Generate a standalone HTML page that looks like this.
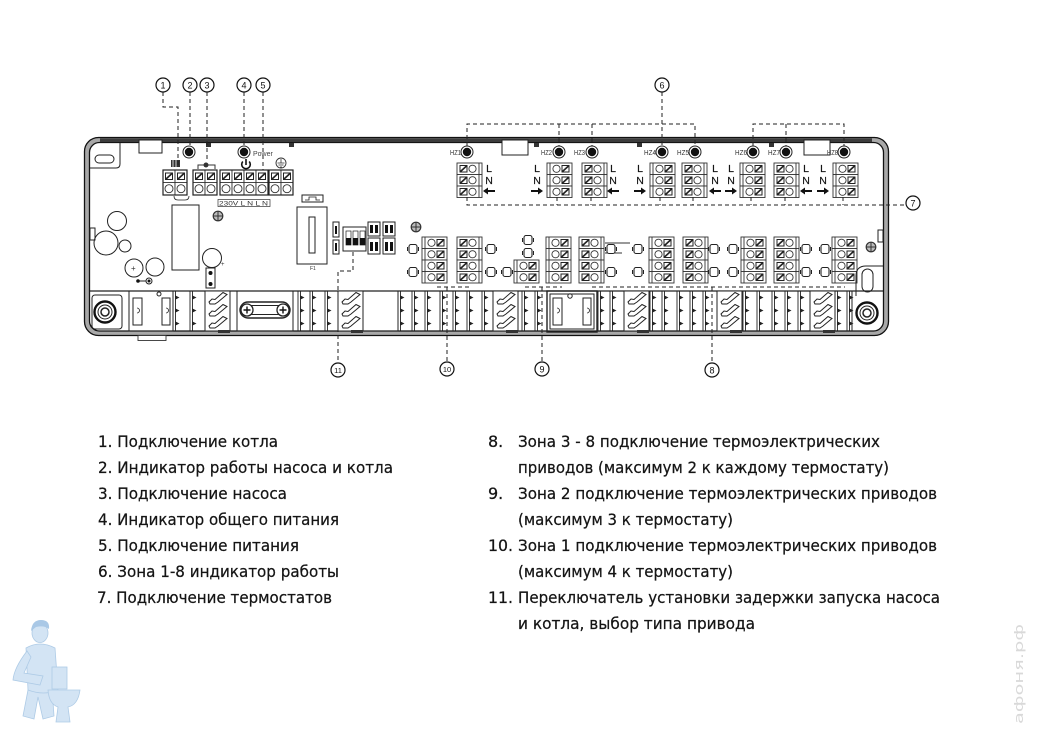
<!DOCTYPE html>
<html><head><meta charset="utf-8">
<style>
html,body{margin:0;padding:0;background:#fff;}
body{width:1037px;height:734px;overflow:hidden;position:relative;}
svg{position:absolute;left:0;top:0;}
</style></head><body>
<svg width="1037" height="734" viewBox="0 0 1037 734" xmlns="http://www.w3.org/2000/svg">
<defs>
 <g id="ra">
  <rect x="0" y="0" width="25" height="11.5" fill="#fff" stroke="#333" stroke-width="0.9"/>
  <line x1="3" y1="0" x2="3" y2="11.5" stroke="#333" stroke-width="0.9"/>
  <circle cx="9.5" cy="5.75" r="3.6" fill="none" stroke="#333" stroke-width="0.9"/>
  <rect x="15" y="2.5" width="7" height="6.5" fill="none" stroke="#222" stroke-width="1"/>
  <path d="M15 9 L22 2.5" stroke="#222" stroke-width="1.6"/>
 </g>
 <g id="rb">
  <rect x="0" y="0" width="25" height="11.5" fill="#fff" stroke="#333" stroke-width="0.9"/>
  <line x1="22" y1="0" x2="22" y2="11.5" stroke="#333" stroke-width="0.9"/>
  <rect x="3" y="2.5" width="7" height="6.5" fill="none" stroke="#222" stroke-width="1"/>
  <path d="M3 9 L10 2.5" stroke="#222" stroke-width="1.6"/>
  <circle cx="15.5" cy="5.75" r="3.6" fill="none" stroke="#333" stroke-width="0.9"/>
 </g>
 <g id="tc">
  <rect x="0" y="0" width="12" height="25" fill="#fff" stroke="#333" stroke-width="0.9"/>
  <line x1="0" y1="12.5" x2="12" y2="12.5" stroke="#333" stroke-width="0.9"/>
  <rect x="2.5" y="3" width="7" height="6.5" fill="none" stroke="#222" stroke-width="1"/>
  <path d="M2.5 9.5 L9.5 3" stroke="#222" stroke-width="1.6"/>
  <circle cx="6" cy="18.7" r="4" fill="none" stroke="#333" stroke-width="0.9"/>
 </g>
 <g id="led">
  <circle r="6" fill="#fff" stroke="#222" stroke-width="1"/>
  <circle r="4.2" fill="#111"/>
 </g>
 <g id="bl">
  <rect x="-4" y="-4.5" width="8" height="9" rx="2" fill="#fff" stroke="#222" stroke-width="1.1"/>
  <line x1="-5.5" y1="-2" x2="-5.5" y2="2" stroke="#222" stroke-width="1"/>
  <line x1="5.5" y1="-2" x2="5.5" y2="2" stroke="#222" stroke-width="1"/>
 </g>
 <g id="sp">
  <rect x="0" y="0" width="25" height="40" fill="#fff" stroke="#222" stroke-width="1"/>
  <path d="M4 11 L7 8 L10 8.5 L18 1.5 L22 3.5 L13 11 L10 13 L5 13 Z" fill="#fff" stroke="#222" stroke-width="1"/>
  <path d="M4 23 L7 20 L10 20.5 L18 13.5 L22 15.5 L13 23 L10 25 L5 25 Z" fill="#fff" stroke="#222" stroke-width="1"/>
  <path d="M4 35 L7 32 L10 32.5 L18 25.5 L22 27.5 L13 35 L10 37 L5 37 Z" fill="#fff" stroke="#222" stroke-width="1"/>
  <rect x="13" y="39" width="12" height="3" fill="#333"/>
 </g>
 <g id="dv" stroke="#222" stroke-width="0.9">
  <line x1="0" y1="0" x2="0" y2="40"/>
  <line x1="2.5" y1="0" x2="2.5" y2="40"/>
  <path d="M2.5 5 l3 1.5 l-3 1.5 Z M2.5 18 l3 1.5 l-3 1.5 Z M2.5 31 l3 1.5 l-3 1.5 Z" fill="#222"/>
 </g>
 <g id="boss">
  <circle r="10.5" fill="#fff" stroke="#111" stroke-width="2.4"/>
  <circle r="7" fill="none" stroke="#222" stroke-width="1"/>
  <circle r="4" fill="none" stroke="#222" stroke-width="1.5"/>
 </g>
 <g id="xh">
  <circle r="4.8" fill="#bbb" stroke="#333" stroke-width="1.2"/>
  <path d="M-4.8 0 H4.8 M0 -4.8 V4.8" stroke="#333" stroke-width="1"/>
 </g>
</defs>

<!-- ENCLOSURE -->
<rect x="84.5" y="137.5" width="804" height="198" rx="14" fill="#a8a8a8" stroke="#111" stroke-width="1.3"/>
<rect x="89.5" y="142.5" width="794" height="188.5" rx="10" fill="#fff" stroke="#111" stroke-width="1.3"/>
<rect x="100" y="138.3" width="772" height="3.8" fill="#3c3c3c"/>
<rect x="139" y="140" width="23" height="13" fill="#fff" stroke="#222" stroke-width="1"/>
<rect x="502" y="140" width="26" height="15" fill="#fff" stroke="#222" stroke-width="1"/>
<rect x="804" y="140" width="26" height="15" fill="#fff" stroke="#222" stroke-width="1"/>
<g fill="#333">
 <rect x="206" y="143" width="5" height="4"/><rect x="289" y="143" width="5" height="4"/>
 <rect x="534" y="143" width="5" height="4"/><rect x="637" y="143" width="5" height="4"/>
 <rect x="769" y="143" width="5" height="4"/>
</g>
<rect x="138" y="335.5" width="28" height="5" fill="#fff" stroke="#333" stroke-width="0.9"/>

<g fill="none" stroke="#222" stroke-width="1">
 <rect x="95" y="155" width="19" height="8" rx="4"/>
 <path d="M120 143 V164 Q120 168 116 168 H90"/>
 <rect x="90" y="228" width="5" height="12"/>
 <rect x="878" y="230" width="5" height="12"/>
 <circle cx="117" cy="221" r="9.5"/>
 <circle cx="106" cy="243" r="12"/>
 <circle cx="125" cy="246" r="6"/>
 <circle cx="134" cy="268" r="9"/>
 <circle cx="155" cy="267" r="9"/>
 <line x1="138" y1="281" x2="146" y2="281"/>
 <circle cx="149" cy="281" r="3"/>
 <circle cx="212" cy="258" r="9.5"/>
 <rect x="206" y="268" width="9" height="20"/>
 <rect x="172" y="205" width="27" height="65"/>
 <rect x="297" y="207" width="30" height="57"/>
 <rect x="309" y="217" width="6" height="36"/>
 <rect x="302" y="195" width="21" height="7"/>
 <path d="M305 200 H309 V197 H316 V200 H320" stroke-width="0.8"/>
 <rect x="333" y="222" width="6" height="15"/>
 <rect x="333" y="240" width="6" height="14"/>
 <rect x="343" y="227" width="23" height="24"/>
 <rect x="368" y="222" width="12" height="14"/>
 <rect x="383" y="222" width="12" height="14"/>
 <rect x="368" y="238" width="12" height="16"/>
 <rect x="383" y="238" width="12" height="16"/>
</g>
<g fill="#111">
 <circle cx="138" cy="281" r="1.8"/>
 <circle cx="149" cy="281" r="1.5"/>
 <circle cx="210.5" cy="273" r="2"/>
 <circle cx="210.5" cy="284" r="2"/>
 <rect x="335" y="226" width="2" height="8"/>
 <rect x="335" y="243" width="2" height="8"/>
 <rect x="346" y="231" width="5" height="14" fill="#fff" stroke="#222" stroke-width="0.7"/>
 <rect x="353" y="231" width="5" height="14" fill="#fff" stroke="#222" stroke-width="0.7"/>
 <rect x="360" y="231" width="5" height="14" fill="#fff" stroke="#222" stroke-width="0.7"/>
 <rect x="346" y="238" width="5" height="7"/><rect x="353" y="238" width="5" height="7"/><rect x="360" y="238" width="5" height="7"/>
 <rect x="370" y="225" width="3" height="8"/><rect x="375" y="225" width="3" height="8"/>
 <rect x="385" y="225" width="3" height="8"/><rect x="390" y="225" width="3" height="8"/>
 <rect x="370" y="242" width="3" height="9"/><rect x="375" y="242" width="3" height="9"/>
 <rect x="385" y="242" width="3" height="9"/><rect x="390" y="242" width="3" height="9"/>
</g>
<text x="131" y="271" font-family="Liberation Sans, sans-serif" font-size="8" fill="#333">+</text>
<text x="221" y="266" font-family="Liberation Sans, sans-serif" font-size="6" fill="#333">+</text>
<text x="310" y="270" font-family="Liberation Sans, sans-serif" font-size="5" fill="#333">F1</text>

<use href="#xh" x="218" y="216"/>
<use href="#xh" x="416" y="227"/>
<use href="#xh" x="871" y="247"/>

<!-- TOP-LEFT TERMINALS -->
<use href="#tc" x="163" y="170"/><use href="#tc" x="175" y="170"/>
<use href="#tc" x="193" y="170"/><use href="#tc" x="205" y="170"/>
<use href="#tc" x="220" y="170"/><use href="#tc" x="232" y="170"/><use href="#tc" x="244" y="170"/><use href="#tc" x="256" y="170"/>
<use href="#tc" x="269" y="170"/><use href="#tc" x="281" y="170"/>
<g fill="none" stroke="#222" stroke-width="1.2">
 <rect x="163" y="170" width="24" height="25"/>
 <rect x="193" y="170" width="24" height="25"/>
 <rect x="220" y="170" width="48" height="25"/>
 <rect x="269" y="170" width="24" height="25"/>
 <path d="M174 196 Q174 200 178 200 H185 Q189 200 189 196" stroke-width="0.8"/>
</g>
<rect x="171" y="160" width="9" height="7" fill="#333"/>
<path d="M173 160 V167 M176 160 V167" stroke="#fff" stroke-width="0.8"/>
<path d="M198 169 V165 H215 V169" fill="none" stroke="#333" stroke-width="1"/>
<circle cx="206" cy="165" r="2.5" fill="#333"/>
<path d="M242.8 161.5 A4.3 4.3 0 1 0 249.2 161.5" fill="none" stroke="#111" stroke-width="1.6"/>
<line x1="246" y1="159" x2="246" y2="165" stroke="#111" stroke-width="1.6"/>
<circle cx="281" cy="163" r="5" fill="#fff" stroke="#333" stroke-width="0.9"/>
<path d="M281 159 V163 M277.5 163 H284.5 M278.5 165 H283.5 M280 167 H282" stroke="#333" stroke-width="0.8"/>
<rect x="218" y="199.5" width="52" height="7" fill="#fff" stroke="#333" stroke-width="0.7"/>
<text x="219" y="205.5" font-family="Liberation Sans, sans-serif" font-size="6.5" fill="#333" textLength="49" lengthAdjust="spacingAndGlyphs">230V L  N   L    N</text>
<text x="253" y="156" font-family="Liberation Sans, sans-serif" font-size="7" fill="#444">Power</text>

<use href="#led" x="189" y="152"/><use href="#led" x="244" y="152"/>
<use href="#led" x="467" y="152"/><use href="#led" x="559" y="152"/><use href="#led" x="592" y="152"/>
<use href="#led" x="662" y="152"/><use href="#led" x="695" y="152"/><use href="#led" x="753" y="152"/>
<use href="#led" x="786" y="152"/><use href="#led" x="844" y="152"/>
<g font-family="Liberation Sans, sans-serif" font-size="7" fill="#333" text-anchor="end">
 <text x="461" y="155" textLength="11" lengthAdjust="spacingAndGlyphs">HZ1</text>
 <text x="552" y="155" textLength="11" lengthAdjust="spacingAndGlyphs">HZ2</text>
 <text x="585" y="155" textLength="11" lengthAdjust="spacingAndGlyphs">HZ3</text>
 <text x="656" y="155" textLength="12" lengthAdjust="spacingAndGlyphs">HZ4</text>
 <text x="689" y="155" textLength="12" lengthAdjust="spacingAndGlyphs">HZ5</text>
 <text x="747" y="155" textLength="12" lengthAdjust="spacingAndGlyphs">HZ6</text>
 <text x="780" y="155" textLength="12" lengthAdjust="spacingAndGlyphs">HZ7</text>
 <text x="838" y="155" textLength="11" lengthAdjust="spacingAndGlyphs">HZ8</text>
</g>

<use href="#rb" x="457" y="163"/><use href="#rb" x="457" y="174.5"/><use href="#rb" x="457" y="186"/>
<use href="#ra" x="547" y="163"/><use href="#ra" x="547" y="174.5"/><use href="#ra" x="547" y="186"/>
<use href="#rb" x="582" y="163"/><use href="#rb" x="582" y="174.5"/><use href="#rb" x="582" y="186"/>
<use href="#ra" x="650" y="163"/><use href="#ra" x="650" y="174.5"/><use href="#ra" x="650" y="186"/>
<use href="#rb" x="682" y="163"/><use href="#rb" x="682" y="174.5"/><use href="#rb" x="682" y="186"/>
<use href="#ra" x="740" y="163"/><use href="#ra" x="740" y="174.5"/><use href="#ra" x="740" y="186"/>
<use href="#rb" x="774" y="163"/><use href="#rb" x="774" y="174.5"/><use href="#rb" x="774" y="186"/>
<use href="#ra" x="833" y="163"/><use href="#ra" x="833" y="174.5"/><use href="#ra" x="833" y="186"/>

<g font-family="Liberation Sans, sans-serif" font-size="10.5" fill="#111" text-anchor="middle" stroke="#111" stroke-width="0.2">
 <text x="489" y="172">L</text><text x="489" y="184">N</text>
 <text x="537" y="172">L</text><text x="537" y="184">N</text>
 <text x="613" y="172">L</text><text x="613" y="184">N</text>
 <text x="640" y="172">L</text><text x="640" y="184">N</text>
 <text x="715" y="172">L</text><text x="715" y="184">N</text>
 <text x="731" y="172">L</text><text x="731" y="184">N</text>
 <text x="806" y="172">L</text><text x="806" y="184">N</text>
 <text x="823" y="172">L</text><text x="823" y="184">N</text>
</g>
<g fill="#111">
 <path d="M483 191 L488 187.5 V190 H495 V192 H488 V194.5 Z"/>
 <path d="M543 191 L538 187.5 V190 H531 V192 H538 V194.5 Z"/>
 <path d="M607 191 L612 187.5 V190 H619 V192 H612 V194.5 Z"/>
 <path d="M646 191 L641 187.5 V190 H634 V192 H641 V194.5 Z"/>
 <path d="M709 191 L714 187.5 V190 H721 V192 H714 V194.5 Z"/>
 <path d="M737 191 L732 187.5 V190 H725 V192 H732 V194.5 Z"/>
 <path d="M800 191 L805 187.5 V190 H812 V192 H805 V194.5 Z"/>
 <path d="M829 191 L824 187.5 V190 H817 V192 H824 V194.5 Z"/>
</g>

<use href="#ra" x="422" y="237"/><use href="#ra" x="422" y="248.5"/><use href="#ra" x="422" y="260"/><use href="#ra" x="422" y="271.5"/>
<use href="#rb" x="457" y="237"/><use href="#rb" x="457" y="248.5"/><use href="#rb" x="457" y="260"/><use href="#rb" x="457" y="271.5"/>
<use href="#ra" x="514" y="260"/><use href="#ra" x="514" y="271.5"/>
<use href="#ra" x="546" y="237"/><use href="#ra" x="546" y="248.5"/><use href="#ra" x="546" y="260"/><use href="#ra" x="546" y="271.5"/>
<use href="#rb" x="579" y="237"/><use href="#rb" x="579" y="248.5"/><use href="#rb" x="579" y="260"/><use href="#rb" x="579" y="271.5"/>
<use href="#ra" x="649" y="237"/><use href="#ra" x="649" y="248.5"/><use href="#ra" x="649" y="260"/><use href="#ra" x="649" y="271.5"/>
<use href="#rb" x="683" y="237"/><use href="#rb" x="683" y="248.5"/><use href="#rb" x="683" y="260"/><use href="#rb" x="683" y="271.5"/>
<use href="#ra" x="741" y="237"/><use href="#ra" x="741" y="248.5"/><use href="#ra" x="741" y="260"/><use href="#ra" x="741" y="271.5"/>
<use href="#rb" x="774" y="237"/><use href="#rb" x="774" y="248.5"/><use href="#rb" x="774" y="260"/><use href="#rb" x="774" y="271.5"/>
<use href="#ra" x="832" y="237"/><use href="#ra" x="832" y="248.5"/><use href="#ra" x="832" y="260"/><use href="#ra" x="832" y="271.5"/>
<path d="M605 243 H630 M605 253 H622" stroke="#333" stroke-width="0.9"/>

<use href="#bl" x="413" y="249"/><use href="#bl" x="413" y="272"/>
<use href="#bl" x="491" y="249"/><use href="#bl" x="491" y="272"/>
<use href="#bl" x="528" y="240"/><use href="#bl" x="528" y="253"/><use href="#bl" x="507" y="272"/>
<use href="#bl" x="611" y="249"/><use href="#bl" x="611" y="272"/>
<use href="#bl" x="638" y="249"/><use href="#bl" x="638" y="272"/>
<use href="#bl" x="714" y="249"/><use href="#bl" x="733" y="249"/><use href="#bl" x="714" y="272"/><use href="#bl" x="733" y="272"/>
<use href="#bl" x="806" y="249"/><use href="#bl" x="825" y="249"/><use href="#bl" x="806" y="272"/><use href="#bl" x="825" y="272"/>

<!-- BOTTOM STRIP -->
<line x1="90" y1="291" x2="883" y2="291" stroke="#222" stroke-width="1.2"/>
<g fill="none" stroke="#222" stroke-width="1">
 <rect x="92" y="295" width="30" height="34" rx="3"/>
 <rect x="129" y="291" width="44" height="40"/>
 <rect x="133" y="298" width="9" height="27"/>
 <rect x="162" y="298" width="8" height="27"/>
 <path d="M137 308 a2.5 2.5 0 0 1 0 5 M166 308 a2.5 2.5 0 0 1 0 5" stroke-width="0.8"/>
 <circle cx="159" cy="294" r="2"/>
 <rect x="237" y="291" width="56" height="40"/>
 <rect x="240" y="302" width="50" height="16" rx="8" stroke-width="1.4"/>
 <rect x="252" y="305.5" width="26" height="9" stroke-width="1"/>
 <rect x="362" y="291" width="36" height="40"/>
 <rect x="547" y="291" width="50" height="41" stroke-width="1.4"/>
 <rect x="550" y="294" width="44" height="35"/>
 <rect x="553" y="298" width="9" height="27"/>
 <rect x="583" y="298" width="8" height="27"/>
 <path d="M557 308 a2.5 2.5 0 0 1 0 5 M587 308 a2.5 2.5 0 0 1 0 5" stroke-width="0.8"/>
 <circle cx="570" cy="296" r="2.2"/>
 <path d="M852 291 V331"/>
 <path d="M856 296 V276 Q856 266 866 266 H883"/>
 <rect x="862" y="269" width="11" height="23" rx="5.5"/>
</g>
<g>
 <circle cx="247" cy="310" r="6" fill="#fff" stroke="#222" stroke-width="1.3"/>
 <circle cx="283" cy="310" r="6" fill="#fff" stroke="#222" stroke-width="1.3"/>
 <path d="M243.5 310 H250.5 M247 306.5 V313.5 M279.5 310 H286.5 M283 306.5 V313.5" stroke="#111" stroke-width="1.4"/>
</g>
<use href="#boss" x="105" y="312"/>
<use href="#boss" x="867" y="313"/>

<use href="#sp" x="205" y="291"/><use href="#sp" x="338" y="291"/><use href="#sp" x="493" y="291"/>
<use href="#sp" x="624" y="291"/><use href="#sp" x="717" y="291"/><use href="#sp" x="810" y="291"/>

<use href="#dv" x="173" y="291"/><use href="#dv" x="190" y="291"/><use href="#dv" x="298" y="291"/>
<use href="#dv" x="310" y="291"/><use href="#dv" x="325" y="291"/><use href="#dv" x="398" y="291"/>
<use href="#dv" x="412" y="291"/><use href="#dv" x="425" y="291"/><use href="#dv" x="440" y="291"/>
<use href="#dv" x="453" y="291"/><use href="#dv" x="467" y="291"/><use href="#dv" x="482" y="291"/>
<use href="#dv" x="522" y="291"/><use href="#dv" x="535" y="291"/><use href="#dv" x="598" y="291"/>
<use href="#dv" x="610" y="291"/><use href="#dv" x="650" y="291"/><use href="#dv" x="662" y="291"/>
<use href="#dv" x="677" y="291"/><use href="#dv" x="690" y="291"/><use href="#dv" x="703" y="291"/>
<use href="#dv" x="743" y="291"/><use href="#dv" x="757" y="291"/><use href="#dv" x="772" y="291"/>
<use href="#dv" x="785" y="291"/><use href="#dv" x="798" y="291"/><use href="#dv" x="835" y="291"/>
<use href="#dv" x="847" y="291"/>

<!-- DASHED LEADERS -->
<g fill="none" stroke="#222" stroke-width="1" stroke-dasharray="4 3">
 <path d="M163 92 V107 H178 V168"/>
 <path d="M190 92 V146"/>
 <path d="M207 92 V160"/>
 <path d="M244 92 V146"/>
 <path d="M263 92 V170"/>
 <path d="M467 146 V124 H695 V146"/>
 <path d="M559 124 V146 M592 124 V146 M662 92 V146"/>
 <path d="M753 146 V124 H844 V146 M786 124 V146"/>
 <path d="M467 197 V205 H906"/>
 <path d="M557 197 V205 M591 197 V205 M660 197 V205 M693 197 V205 M751 197 V205 M785 197 V205 M843 197 V205"/>
 <path d="M353 252 V271 H338 V363"/>
 <path d="M437 287 H470 M447 287 V362"/>
 <path d="M525 287 H562 M542 287 V362"/>
 <path d="M592 287 H845 M712 287 V363"/>
</g>

<g fill="#fff" stroke="#111" stroke-width="1.2">
 <circle cx="163" cy="85" r="7"/><circle cx="190" cy="85" r="7"/><circle cx="207" cy="85" r="7"/>
 <circle cx="244" cy="85" r="7"/><circle cx="263" cy="85" r="7"/><circle cx="662" cy="85" r="7"/>
 <circle cx="913" cy="203" r="7"/><circle cx="338" cy="370" r="7"/><circle cx="447" cy="369" r="7"/>
 <circle cx="542" cy="369" r="7"/><circle cx="712" cy="370" r="7"/>
</g>
<g font-family="Liberation Sans, sans-serif" font-size="9" fill="#111" text-anchor="middle">
 <text x="163" y="88.3">1</text><text x="190" y="88.3">2</text><text x="207" y="88.3">3</text>
 <text x="244" y="88.3">4</text><text x="263" y="88.3">5</text><text x="662" y="88.3">6</text>
 <text x="913" y="206.3">7</text><text x="712" y="373.3">8</text><text x="542" y="372.3">9</text>
 <text x="447" y="372" font-size="7.5">10</text><text x="338" y="373" font-size="7.5">11</text>
</g>

<!-- LIST TEXT -->
<g font-family="DejaVu Sans, Liberation Sans, sans-serif" font-size="16" fill="#151515" stroke="#151515" stroke-width="0.25">
 <text x="98" y="447" textLength="180" lengthAdjust="spacingAndGlyphs">1. Подключение котла</text>
 <text x="98" y="473" textLength="295" lengthAdjust="spacingAndGlyphs">2. Индикатор работы насоса и котла</text>
 <text x="98" y="499" textLength="189" lengthAdjust="spacingAndGlyphs">3. Подключение насоса</text>
 <text x="98" y="525" textLength="241" lengthAdjust="spacingAndGlyphs">4. Индикатор общего питания</text>
 <text x="98" y="551" textLength="201" lengthAdjust="spacingAndGlyphs">5. Подключение питания</text>
 <text x="98" y="577" textLength="241" lengthAdjust="spacingAndGlyphs">6. Зона 1-8 индикатор работы</text>
 <text x="97" y="603" textLength="235" lengthAdjust="spacingAndGlyphs">7. Подключение термостатов</text>

 <text x="488" y="447">8.</text>
 <text x="518" y="447" textLength="362" lengthAdjust="spacingAndGlyphs">Зона 3 - 8 подключение термоэлектрических</text>
 <text x="518" y="473" textLength="371" lengthAdjust="spacingAndGlyphs">приводов (максимум 2 к каждому термостату)</text>
 <text x="488" y="499">9.</text>
 <text x="518" y="499" textLength="419" lengthAdjust="spacingAndGlyphs">Зона 2 подключение термоэлектрических приводов</text>
 <text x="518" y="525" textLength="215" lengthAdjust="spacingAndGlyphs">(максимум 3 к термостату)</text>
 <text x="488" y="551" textLength="25" lengthAdjust="spacingAndGlyphs">10.</text>
 <text x="518" y="551" textLength="419" lengthAdjust="spacingAndGlyphs">Зона 1 подключение термоэлектрических приводов</text>
 <text x="518" y="577" textLength="215" lengthAdjust="spacingAndGlyphs">(максимум 4 к термостату)</text>
 <text x="488" y="603" textLength="25" lengthAdjust="spacingAndGlyphs">11.</text>
 <text x="518" y="603" textLength="422" lengthAdjust="spacingAndGlyphs">Переключатель установки задержки запуска насоса</text>
 <text x="518" y="629" textLength="237" lengthAdjust="spacingAndGlyphs">и котла, выбор типа привода</text>
</g>

<!-- LOGO -->
<g fill="#d3e4f4" stroke="#aecbe6" stroke-width="0.8">
 <path d="M28 690 L23 716 L34 719 L38 697 L43 719 L54 716 L52 688 Z"/>
 <path d="M26 648 Q40 640 55 648 L58 690 Q44 696 28 690 Z"/>
 <path d="M27 651 Q14 668 13 680 L40 685 L43 676 L24 673 Q28 664 31 657 Z"/>
 <ellipse cx="40" cy="633" rx="8" ry="9.5"/>
 <rect x="52" y="667" width="15" height="22"/>
 <path d="M48 690 H80 Q78 705 68 707 L70 722 H56 L58 707 Q49 704 48 690 Z"/>
</g>
<path d="M31 631 Q32 620 41 620 Q50 620 49 629 Q44 625 36 627 Z" fill="#a9c8e6"/>

<text transform="translate(1023,724) rotate(-90)" font-family="DejaVu Sans, sans-serif" font-size="12" fill="#d9d9d9" textLength="100" lengthAdjust="spacingAndGlyphs">афоня.рф</text>
</svg>
</body></html>
